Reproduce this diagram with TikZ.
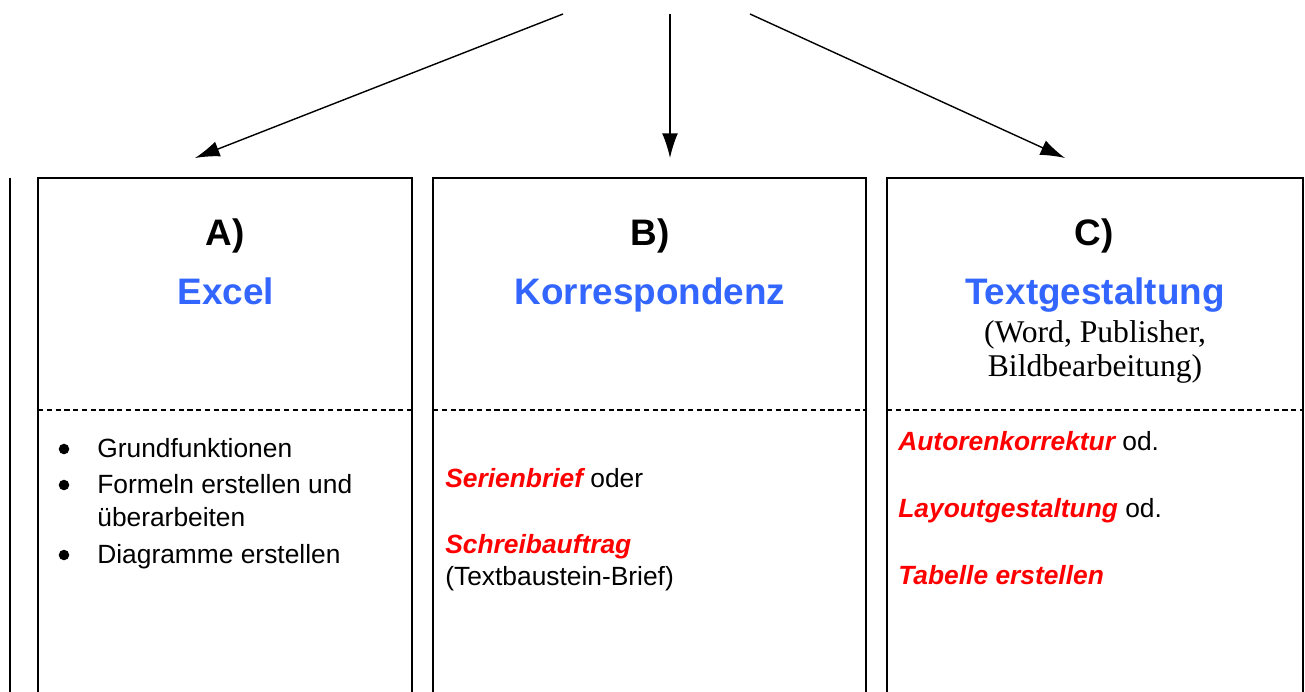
\documentclass[tikz,border=0pt]{standalone}
\usepackage{fontspec}
\setmainfont{Liberation Sans}
\newfontfamily\timesfont{Liberation Serif}
\usepackage{xcolor}
\usetikzlibrary{arrows.meta}
\definecolor{titleblue}{RGB}{51,102,255}
\tikzset{
  box/.style={line width=1.1pt},
  sepline/.style={line width=0.6pt, dash pattern=on 3pt off 2pt},
  head/.style={anchor=base, font=\fontsize{21}{25}\selectfont\bfseries},
  topic/.style={head, text=titleblue},
  subline/.style={anchor=base, font=\timesfont\fontsize{18}{21}\selectfont},
  item/.style={anchor=base west, inner sep=0pt, font=\fontsize{15}{18}\selectfont},
  dot/.style={circle, fill=black, inner sep=0pt, minimum size=6pt},
  flow/.style={-{Latex[length=14pt,width=9pt]}, line width=0.8pt}
}
\newcommand{\hot}[1]{\textcolor{red}{\bfseries\itshape #1}}

\begin{document}
\begin{tikzpicture}[x=0.02cm, y=-0.02cm]
\useasboundingbox (0,0) rectangle (1305,691);
\clip (0,0) rectangle (1305,691);
% frames
\draw[box] (10,178) -- (10,700);
\draw[box] (38,178) rectangle (412,700);
\draw[box] (433,178) rectangle (866,700);
\draw[box] (887,178) rectangle (1303,700);
\draw[sepline] (38,410) -- (412,410);
\draw[sepline] (433,410) -- (866,410);
\draw[sepline] (887,410) -- (1303,410);
% arrows
\coordinate (srcA) at (563,14);
\coordinate (srcB) at (670,14);
\coordinate (srcC) at (750,14);
\coordinate (dstA) at (195,158);
\coordinate (dstB) at (670,158);
\coordinate (dstC) at (1065,158);
\draw[flow] (srcA) -- (dstA);
\draw[flow] (srcB) -- (dstB);
\draw[flow] (srcC) -- (dstC);
% titles
\node[head] (labA) at (225,245) {A)};
\node[topic] (topA) at (226,304) {Excel};
\node[head] (labB) at (650,245) {B)};
\node[topic] (topB) at (650,304) {Korrespondenz};
\node[head] (labC) at (1094,245) {C)};
\node[topic] (topC) at (1095,304) {Textgestaltung};
\node[subline] (subC1) at (1095,342) {(Word, Publisher,};
\node[subline] (subC2) at (1095,376) {Bildbearbeitung)};
% box A
\node[dot] (b1) at (64,449) {};
\node[item] (a1) at (97,457) {Grundfunktionen};
\node[dot] (b2) at (64,485) {};
\node[item] (a2) at (97,493) {Formeln erstellen und};
\node[item] (a3) at (97,526) {überarbeiten};
\node[dot] (b3) at (64,555) {};
\node[item] (a4) at (97,563) {Diagramme erstellen};
% box B
\node[item] (s1) at (445,487) {\hot{Serienbrief} oder};
\node[item] (s2) at (445,553) {\hot{Schreibauftrag}};
\node[item] (s3) at (445,585) {(Textbaustein-Brief)};
% box C
\node[item] (t1) at (898,450) {\hot{Autorenkorrektur} od.};
\node[item] (t2) at (898,517) {\hot{Layoutgestaltung} od.};
\node[item] (t3) at (898,584) {\hot{Tabelle erstellen}};
\end{tikzpicture}
\end{document}
